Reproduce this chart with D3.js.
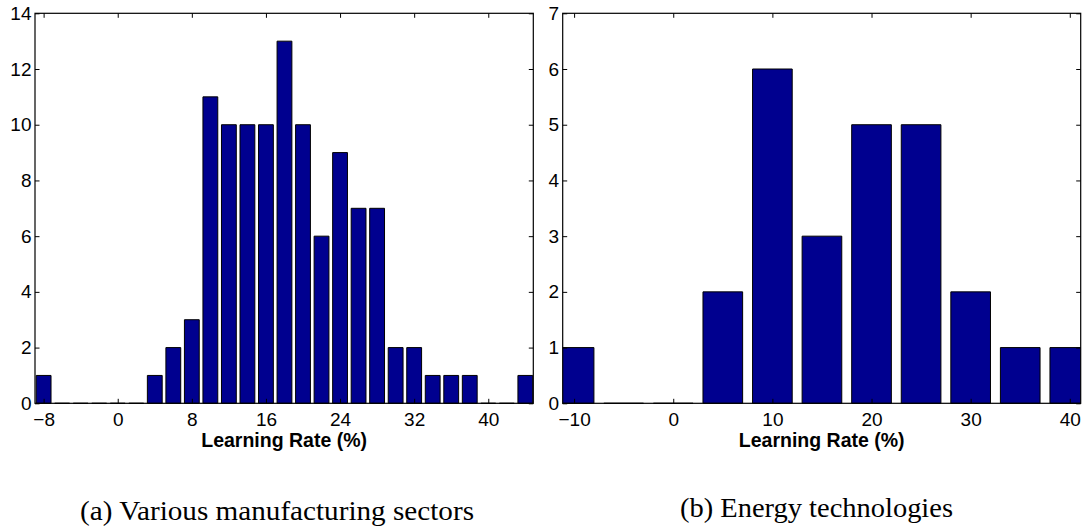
<!DOCTYPE html>
<html>
<head>
<meta charset="utf-8">
<script src="https://cdn.jsdelivr.net/npm/d3@7"></script>
<style>
  html, body { margin: 0; padding: 0; background: #fff; }
  svg { display: block; }
</style>
</head>
<body>
<svg id="fig" width="1090" height="532"></svg>
<script>
// Learning-rate histograms: bin centres (%) and number of observations per bin.
const mfgBins   = [-8, -6, -4, -2, 0, 2, 4, 6, 8, 10, 12, 14, 16, 18, 20, 22, 24, 26, 28, 30, 32, 34, 36, 38, 40, 42, 44];
const mfgCounts = [ 1,  0,  0,  0, 0, 0, 1, 2, 3, 11, 10, 10, 10, 13, 10,  6,  9,  7,  7,  2,  2,  1,  1,  1,  0,  0,  1];
const mfgXTicks = [-8, 0, 8, 16, 24, 32, 40];
const mfgYTicks = [0, 2, 4, 6, 8, 10, 12, 14];

const energyBins   = [-10, -5, 0, 5, 10, 15, 20, 25, 30, 35, 40];
const energyCounts = [  1,  0, 0, 2,  6,  3,  5,  5,  2,  1,  1];
const energyXTicks = [-10, 0, 10, 20, 30, 40];
const energyYTicks = [0, 1, 2, 3, 4, 5, 6, 7];

const xLabel = "Learning Rate (%)";
const captions = ["(a) Various manufacturing sectors", "(b) Energy technologies"];

const svg = d3.select("#fig");
const fmt = v => (v < 0 ? "\u2212" + Math.abs(v) : String(v));

const panels = [
  { bins: mfgBins, counts: mfgCounts, xTicks: mfgXTicks, yTicks: mfgYTicks,
    xDomain: [-8.93, 44.86], binWidth: 2, left: 35, right: 533.3,
    caption: captions[0], capX: 277, capY: 520, capW: 394 },
  { bins: energyBins, counts: energyCounts, xTicks: energyXTicks, yTicks: energyYTicks,
    xDomain: [-11.15, 41.1], binWidth: 5, left: 562.7, right: 1080.7,
    caption: captions[1], capX: 816.5, capY: 517, capW: 273 }
];

const plotTop = 13.3, plotBottom = 403.3, tickLen = 4.5;
const barFrac = 0.8;

panels.forEach((p, i) => {
  const x = d3.scaleLinear().domain(p.xDomain).range([p.left, p.right]);
  const y = d3.scaleLinear().domain([0, d3.max(p.yTicks)]).range([plotBottom, plotTop]);
  const g = svg.append("g");

  const clipId = "clip" + i;
  svg.append("clipPath").attr("id", clipId)
    .append("rect")
    .attr("x", p.left).attr("y", plotTop - 1)
    .attr("width", p.right - p.left).attr("height", plotBottom - plotTop + 2);

  // bars (drawn as paths so empty bins keep their outline on the baseline)
  const halfW = p.binWidth * barFrac / 2;
  g.append("g").attr("clip-path", `url(#${clipId})`)
    .selectAll("path")
    .data(p.bins.map((b, k) => ({ b, c: p.counts[k] })))
    .join("path")
    .attr("d", d => {
      const x0 = x(d.b - halfW), x1 = x(d.b + halfW), y0 = y(0), y1 = y(d.c);
      return `M${x0},${y0}V${y1}H${x1}V${y0}Z`;
    })
    .attr("fill", "#00008f")
    .attr("stroke", "#000")
    .attr("stroke-width", 1);

  // axes with inward ticks on all four sides
  const axB = d3.axisBottom(x).tickValues(p.xTicks).tickSize(-tickLen).tickPadding(9.5).tickFormat(fmt);
  const axT = d3.axisTop(x).tickValues(p.xTicks).tickSize(-tickLen).tickFormat("");
  const axL = d3.axisLeft(y).tickValues(p.yTicks).tickSize(-tickLen).tickPadding(3.5).tickFormat(d3.format("d"));
  const axR = d3.axisRight(y).tickValues(p.yTicks).tickSize(-tickLen).tickFormat("");

  const styleAxis = sel => {
    sel.select(".domain").remove();
    sel.selectAll(".tick line").attr("stroke", "#000").attr("stroke-width", 1);
    sel.selectAll("text")
      .attr("fill", "#000")
      .style("font-family", "'Liberation Sans', Arial, Helvetica, sans-serif")
      .style("font-size", "19px");
  };

  g.append("g").attr("transform", `translate(0,${plotBottom})`).call(axB).call(styleAxis)
    .selectAll("text").attr("dy", "0.72em");
  g.append("g").attr("transform", `translate(0,${plotTop})`).call(axT).call(styleAxis);
  g.append("g").attr("transform", `translate(${p.left},0)`).call(axL).call(styleAxis);
  g.append("g").attr("transform", `translate(${p.right},0)`).call(axR).call(styleAxis);

  // axes box
  g.append("rect")
    .attr("x", p.left).attr("y", plotTop)
    .attr("width", p.right - p.left).attr("height", plotBottom - plotTop)
    .attr("fill", "none").attr("stroke", "#000").attr("stroke-width", 1.2);

  // x-axis title
  g.append("text")
    .attr("x", (p.left + p.right) / 2).attr("y", 446.7)
    .attr("text-anchor", "middle")
    .style("font-family", "'Liberation Sans', Arial, Helvetica, sans-serif")
    .style("font-size", "19.5px").style("font-weight", "bold")
    .text(xLabel);

  // sub-figure caption
  g.append("text")
    .attr("x", p.capX).attr("y", p.capY)
    .attr("text-anchor", "middle")
    .attr("textLength", p.capW).attr("lengthAdjust", "spacingAndGlyphs")
    .style("font-family", "'Liberation Serif', 'Times New Roman', serif")
    .style("font-size", "26.5px")
    .text(p.caption);
});
</script>
</body>
</html>
